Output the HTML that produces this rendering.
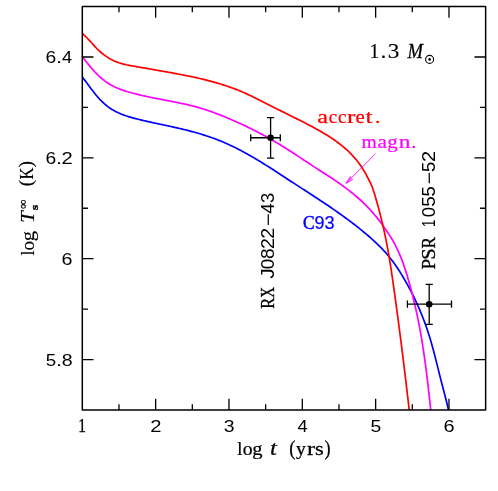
<!DOCTYPE html>
<html><head><meta charset="utf-8"><title>Cooling curves</title>
<style>
html,body{margin:0;padding:0;background:#fff;}
svg{display:block;will-change:transform;}
</style></head>
<body>
<svg width="498" height="491" viewBox="0 0 498 491">
<rect width="498" height="491" fill="#fff"/>
<defs><clipPath id="cp"><rect x="82.3" y="6.55" width="403.34999999999997" height="403.45"/></clipPath></defs>
<g clip-path="url(#cp)" fill="none" stroke-width="1.7" stroke-linejoin="round">
<path d="M80.45,74.82 L81.59,76.17 L82.71,77.55 L83.81,78.95 L84.91,80.37 L86.00,81.81 L87.08,83.27 L88.17,84.73 L89.25,86.20 L90.34,87.68 L91.44,89.15 L92.55,90.61 L93.67,92.06 L94.81,93.50 L95.97,94.92 L97.15,96.32 L98.36,97.69 L99.59,99.04 L100.85,100.35 L102.14,101.63 L103.46,102.87 L104.80,104.08 L106.18,105.24 L107.58,106.35 L109.02,107.43 L110.49,108.45 L111.99,109.42 L113.52,110.33 L115.09,111.20 L116.68,112.01 L118.30,112.79 L119.94,113.51 L121.61,114.20 L123.29,114.85 L125.00,115.47 L126.72,116.05 L128.45,116.61 L130.20,117.13 L131.96,117.64 L133.72,118.12 L135.49,118.59 L137.27,119.04 L139.05,119.48 L140.82,119.91 L142.60,120.33 L144.38,120.74 L146.15,121.15 L147.92,121.55 L149.70,121.95 L151.47,122.34 L153.24,122.73 L155.01,123.11 L156.77,123.49 L158.54,123.87 L160.31,124.25 L162.07,124.63 L163.84,125.01 L165.60,125.38 L167.36,125.76 L169.13,126.14 L170.89,126.53 L172.65,126.92 L174.41,127.31 L176.17,127.70 L177.93,128.10 L179.69,128.51 L181.45,128.92 L183.21,129.34 L184.97,129.77 L186.73,130.20 L188.48,130.65 L190.24,131.10 L192.00,131.57 L193.75,132.04 L195.51,132.53 L197.26,133.03 L199.01,133.54 L200.76,134.06 L202.50,134.59 L204.24,135.13 L205.98,135.69 L207.71,136.26 L209.44,136.84 L211.16,137.44 L212.88,138.05 L214.58,138.67 L216.29,139.31 L217.98,139.96 L219.67,140.63 L221.35,141.31 L223.02,142.01 L224.69,142.72 L226.35,143.45 L228.00,144.19 L229.64,144.94 L231.28,145.71 L232.91,146.49 L234.53,147.28 L236.15,148.08 L237.76,148.90 L239.37,149.73 L240.97,150.56 L242.56,151.41 L244.15,152.27 L245.74,153.14 L247.32,154.01 L248.89,154.90 L250.46,155.80 L252.03,156.70 L253.59,157.61 L255.15,158.53 L256.70,159.46 L258.25,160.39 L259.80,161.33 L261.34,162.27 L262.89,163.22 L264.42,164.18 L265.96,165.14 L267.49,166.11 L269.02,167.08 L270.55,168.06 L272.08,169.03 L273.61,170.02 L275.13,171.00 L276.65,171.99 L278.18,172.98 L279.70,173.97 L281.22,174.96 L282.74,175.96 L284.26,176.95 L285.78,177.94 L287.30,178.94 L288.82,179.93 L290.34,180.93 L291.86,181.92 L293.38,182.91 L294.90,183.90 L296.43,184.89 L297.95,185.88 L299.47,186.87 L301.00,187.85 L302.52,188.84 L304.05,189.83 L305.57,190.81 L307.09,191.80 L308.61,192.79 L310.14,193.78 L311.66,194.77 L313.18,195.76 L314.69,196.75 L316.21,197.75 L317.73,198.74 L319.24,199.74 L320.75,200.74 L322.26,201.74 L323.77,202.75 L325.28,203.76 L326.78,204.77 L328.29,205.78 L329.78,206.80 L331.28,207.82 L332.77,208.84 L334.26,209.87 L335.75,210.90 L337.24,211.94 L338.72,212.98 L340.19,214.03 L341.67,215.08 L343.14,216.14 L344.60,217.20 L346.06,218.27 L347.52,219.34 L348.97,220.42 L350.42,221.51 L351.86,222.60 L353.30,223.70 L354.74,224.80 L356.16,225.91 L357.59,227.03 L359.01,228.16 L360.42,229.29 L361.82,230.44 L363.22,231.59 L364.62,232.74 L366.01,233.91 L367.39,235.09 L368.77,236.27 L370.13,237.46 L371.49,238.67 L372.85,239.88 L374.19,241.10 L375.52,242.34 L376.84,243.59 L378.14,244.85 L379.43,246.12 L380.71,247.40 L381.98,248.70 L383.22,250.02 L384.45,251.35 L385.67,252.69 L386.86,254.05 L388.03,255.43 L389.19,256.83 L390.32,258.24 L391.44,259.66 L392.53,261.11 L393.61,262.56 L394.66,264.04 L395.70,265.52 L396.73,267.02 L397.74,268.53 L398.73,270.04 L399.71,271.57 L400.68,273.11 L401.63,274.66 L402.57,276.21 L403.50,277.77 L404.41,279.34 L405.32,280.91 L406.22,282.49 L407.10,284.08 L407.98,285.67 L408.84,287.26 L409.70,288.86 L410.54,290.47 L411.37,292.08 L412.19,293.69 L413.00,295.32 L413.80,296.94 L414.59,298.57 L415.37,300.21 L416.14,301.85 L416.90,303.50 L417.64,305.15 L418.38,306.80 L419.10,308.46 L419.81,310.13 L420.51,311.80 L421.20,313.47 L421.88,315.15 L422.55,316.83 L423.21,318.52 L423.86,320.21 L424.49,321.91 L425.11,323.61 L425.73,325.31 L426.33,327.02 L426.92,328.73 L427.50,330.45 L428.06,332.17 L428.62,333.89 L429.16,335.62 L429.70,337.35 L430.22,339.09 L430.74,340.82 L431.24,342.57 L431.74,344.31 L432.23,346.05 L432.71,347.80 L433.19,349.55 L433.66,351.31 L434.12,353.06 L434.58,354.82 L435.03,356.58 L435.48,358.33 L435.93,360.09 L436.38,361.85 L436.82,363.61 L437.26,365.38 L437.70,367.14 L438.14,368.90 L438.58,370.66 L439.02,372.42 L439.46,374.18 L439.90,375.94 L440.34,377.70 L440.79,379.46 L441.24,381.21 L441.70,382.97 L442.15,384.72 L442.61,386.48 L443.07,388.23 L443.53,389.98 L443.99,391.73 L444.44,393.48 L444.90,395.24 L445.35,396.99 L445.79,398.74 L446.23,400.50 L446.66,402.26 L447.08,404.02 L447.50,405.78 L447.90,407.55 L448.29,409.32 L448.68,411.09 L449.05,412.86 L449.40,414.64 L449.75,416.43 L450.07,418.21 L450.38,420.01" stroke="#0000ff"/>
<path d="M80.40,54.53 L81.58,55.94 L82.76,57.37 L83.93,58.81 L85.09,60.27 L86.26,61.73 L87.43,63.19 L88.61,64.65 L89.80,66.10 L91.00,67.54 L92.22,68.97 L93.46,70.38 L94.72,71.77 L96.01,73.13 L97.33,74.46 L98.67,75.76 L100.05,77.02 L101.46,78.25 L102.90,79.43 L104.37,80.58 L105.87,81.68 L107.40,82.74 L108.96,83.75 L110.55,84.71 L112.17,85.61 L113.82,86.47 L115.49,87.27 L117.19,88.03 L118.92,88.74 L120.66,89.41 L122.42,90.04 L124.20,90.64 L125.98,91.21 L127.78,91.75 L129.58,92.27 L131.39,92.77 L133.20,93.25 L135.01,93.72 L136.83,94.18 L138.64,94.63 L140.45,95.07 L142.27,95.49 L144.09,95.91 L145.91,96.31 L147.73,96.71 L149.55,97.10 L151.37,97.48 L153.20,97.85 L155.03,98.22 L156.86,98.58 L158.70,98.93 L160.53,99.29 L162.37,99.64 L164.20,99.98 L166.04,100.33 L167.88,100.68 L169.71,101.03 L171.55,101.38 L173.39,101.74 L175.22,102.10 L177.06,102.47 L178.89,102.84 L180.72,103.22 L182.55,103.61 L184.37,104.01 L186.19,104.42 L188.01,104.84 L189.83,105.27 L191.64,105.72 L193.45,106.18 L195.25,106.66 L197.05,107.16 L198.84,107.67 L200.63,108.20 L202.41,108.74 L204.19,109.30 L205.97,109.87 L207.74,110.46 L209.51,111.06 L211.27,111.67 L213.03,112.30 L214.78,112.94 L216.53,113.59 L218.28,114.25 L220.02,114.93 L221.76,115.61 L223.50,116.31 L225.23,117.01 L226.95,117.72 L228.68,118.45 L230.40,119.18 L232.11,119.92 L233.83,120.66 L235.54,121.42 L237.24,122.18 L238.94,122.95 L240.64,123.73 L242.34,124.52 L244.03,125.31 L245.71,126.12 L247.40,126.93 L249.07,127.74 L250.75,128.57 L252.42,129.40 L254.09,130.25 L255.75,131.10 L257.41,131.95 L259.06,132.82 L260.71,133.69 L262.36,134.58 L264.00,135.47 L265.64,136.36 L267.27,137.27 L268.90,138.18 L270.52,139.11 L272.14,140.04 L273.75,140.97 L275.36,141.92 L276.97,142.88 L278.57,143.84 L280.16,144.81 L281.75,145.79 L283.34,146.77 L284.92,147.76 L286.50,148.76 L288.08,149.76 L289.65,150.76 L291.22,151.78 L292.79,152.79 L294.36,153.81 L295.92,154.83 L297.49,155.85 L299.05,156.88 L300.61,157.91 L302.17,158.93 L303.73,159.96 L305.29,160.99 L306.85,162.02 L308.41,163.05 L309.97,164.08 L311.53,165.10 L313.09,166.12 L314.66,167.14 L316.22,168.16 L317.79,169.18 L319.36,170.19 L320.92,171.20 L322.49,172.21 L324.06,173.22 L325.63,174.24 L327.19,175.25 L328.76,176.26 L330.32,177.28 L331.88,178.30 L333.43,179.33 L334.98,180.37 L336.52,181.42 L338.05,182.48 L339.58,183.55 L341.10,184.63 L342.61,185.72 L344.12,186.82 L345.62,187.93 L347.11,189.06 L348.59,190.19 L350.07,191.34 L351.53,192.50 L352.99,193.67 L354.43,194.86 L355.87,196.06 L357.29,197.27 L358.69,198.50 L360.09,199.74 L361.47,201.00 L362.83,202.27 L364.18,203.57 L365.51,204.87 L366.82,206.20 L368.11,207.55 L369.39,208.91 L370.64,210.29 L371.88,211.68 L373.11,213.09 L374.32,214.51 L375.51,215.95 L376.69,217.40 L377.85,218.87 L379.00,220.34 L380.13,221.83 L381.25,223.32 L382.36,224.83 L383.46,226.34 L384.54,227.87 L385.62,229.40 L386.68,230.94 L387.73,232.48 L388.76,234.04 L389.78,235.61 L390.77,237.18 L391.75,238.77 L392.69,240.38 L393.62,242.00 L394.51,243.63 L395.38,245.28 L396.22,246.95 L397.03,248.62 L397.82,250.31 L398.58,252.01 L399.33,253.72 L400.05,255.44 L400.76,257.17 L401.44,258.90 L402.11,260.65 L402.76,262.40 L403.40,264.15 L404.01,265.92 L404.62,267.69 L405.21,269.46 L405.78,271.24 L406.35,273.02 L406.90,274.81 L407.44,276.60 L407.97,278.40 L408.49,280.19 L409.00,281.99 L409.51,283.80 L410.00,285.60 L410.49,287.40 L410.98,289.21 L411.45,291.01 L411.92,292.82 L412.39,294.63 L412.84,296.44 L413.29,298.25 L413.74,300.07 L414.17,301.88 L414.60,303.70 L415.02,305.51 L415.44,307.33 L415.85,309.15 L416.25,310.97 L416.64,312.80 L417.03,314.62 L417.41,316.45 L417.79,318.28 L418.16,320.11 L418.52,321.94 L418.88,323.77 L419.23,325.60 L419.58,327.44 L419.91,329.27 L420.25,331.11 L420.58,332.95 L420.90,334.79 L421.22,336.63 L421.53,338.47 L421.84,340.31 L422.14,342.15 L422.44,344.00 L422.73,345.84 L423.02,347.69 L423.30,349.53 L423.58,351.38 L423.86,353.23 L424.13,355.08 L424.39,356.93 L424.66,358.78 L424.92,360.63 L425.17,362.48 L425.42,364.33 L425.67,366.18 L425.91,368.04 L426.15,369.89 L426.39,371.74 L426.63,373.60 L426.86,375.45 L427.09,377.31 L427.31,379.16 L427.54,381.02 L427.76,382.88 L427.97,384.73 L428.19,386.59 L428.40,388.44 L428.62,390.30 L428.82,392.16 L429.03,394.01 L429.24,395.87 L429.44,397.73 L429.64,399.58 L429.84,401.44 L430.04,403.30 L430.24,405.15 L430.44,407.01 L430.63,408.86 L430.83,410.72 L431.02,412.57 L431.22,414.43 L431.41,416.28 L431.60,418.14 L431.79,419.99" stroke="#ff00ff"/>
<path d="M80.36,31.59 L81.78,32.91 L83.20,34.23 L84.61,35.55 L86.01,36.90 L87.37,38.27 L88.71,39.67 L90.02,41.10 L91.31,42.54 L92.60,43.98 L93.89,45.43 L95.21,46.85 L96.54,48.25 L97.92,49.62 L99.34,50.95 L100.79,52.24 L102.28,53.48 L103.81,54.67 L105.37,55.81 L106.97,56.90 L108.61,57.93 L110.27,58.90 L111.97,59.82 L113.70,60.66 L115.46,61.44 L117.25,62.15 L119.06,62.79 L120.90,63.37 L122.76,63.89 L124.64,64.36 L126.53,64.79 L128.44,65.18 L130.35,65.55 L132.27,65.90 L134.19,66.23 L136.11,66.56 L138.03,66.89 L139.95,67.22 L141.86,67.55 L143.77,67.88 L145.68,68.21 L147.59,68.55 L149.49,68.88 L151.39,69.22 L153.30,69.55 L155.20,69.89 L157.10,70.23 L159.00,70.57 L160.90,70.91 L162.80,71.24 L164.70,71.58 L166.60,71.93 L168.50,72.27 L170.40,72.61 L172.31,72.96 L174.21,73.30 L176.11,73.65 L178.02,74.01 L179.92,74.37 L181.82,74.73 L183.72,75.10 L185.62,75.47 L187.52,75.85 L189.42,76.24 L191.32,76.63 L193.21,77.03 L195.10,77.44 L197.00,77.86 L198.89,78.28 L200.77,78.72 L202.66,79.16 L204.54,79.62 L206.42,80.09 L208.30,80.56 L210.18,81.06 L212.05,81.56 L213.92,82.07 L215.78,82.60 L217.64,83.14 L219.50,83.70 L221.35,84.27 L223.20,84.85 L225.04,85.45 L226.88,86.06 L228.71,86.69 L230.53,87.33 L232.35,87.99 L234.17,88.66 L235.97,89.36 L237.77,90.06 L239.56,90.79 L241.35,91.53 L243.13,92.29 L244.90,93.07 L246.66,93.87 L248.41,94.68 L250.16,95.51 L251.91,96.35 L253.65,97.20 L255.38,98.06 L257.11,98.92 L258.84,99.80 L260.57,100.67 L262.30,101.55 L264.02,102.43 L265.75,103.32 L267.48,104.20 L269.21,105.07 L270.94,105.94 L272.67,106.81 L274.40,107.68 L276.14,108.55 L277.87,109.41 L279.61,110.27 L281.34,111.13 L283.08,111.99 L284.81,112.85 L286.55,113.71 L288.28,114.57 L290.02,115.43 L291.75,116.29 L293.49,117.15 L295.22,118.01 L296.95,118.87 L298.68,119.74 L300.40,120.61 L302.13,121.48 L303.85,122.36 L305.57,123.24 L307.29,124.13 L309.00,125.03 L310.71,125.93 L312.41,126.84 L314.11,127.76 L315.81,128.70 L317.50,129.64 L319.19,130.59 L320.87,131.55 L322.55,132.53 L324.22,133.52 L325.88,134.53 L327.53,135.55 L329.17,136.58 L330.80,137.64 L332.42,138.71 L334.03,139.80 L335.61,140.91 L337.19,142.04 L338.74,143.20 L340.28,144.38 L341.79,145.58 L343.29,146.80 L344.76,148.06 L346.21,149.33 L347.63,150.64 L349.03,151.97 L350.40,153.33 L351.75,154.72 L353.06,156.13 L354.35,157.57 L355.61,159.04 L356.84,160.53 L358.03,162.05 L359.19,163.60 L360.32,165.17 L361.42,166.76 L362.48,168.39 L363.50,170.03 L364.50,171.70 L365.46,173.39 L366.39,175.10 L367.31,176.82 L368.21,178.54 L369.09,180.27 L369.96,182.00 L370.80,183.74 L371.58,185.50 L372.30,187.28 L372.96,189.09 L373.57,190.92 L374.16,192.76 L374.72,194.61 L375.27,196.47 L375.82,198.32 L376.36,200.18 L376.89,202.05 L377.41,203.91 L377.92,205.78 L378.43,207.65 L378.93,209.52 L379.42,211.40 L379.91,213.27 L380.39,215.15 L380.86,217.03 L381.32,218.92 L381.78,220.80 L382.22,222.68 L382.67,224.57 L383.10,226.46 L383.53,228.35 L383.95,230.24 L384.36,232.13 L384.77,234.02 L385.16,235.91 L385.56,237.81 L385.94,239.70 L386.32,241.60 L386.69,243.50 L387.06,245.40 L387.42,247.30 L387.77,249.20 L388.11,251.10 L388.45,253.01 L388.79,254.91 L389.11,256.82 L389.43,258.73 L389.75,260.64 L390.06,262.55 L390.36,264.46 L390.66,266.37 L390.95,268.29 L391.24,270.20 L391.53,272.12 L391.81,274.03 L392.09,275.95 L392.37,277.87 L392.65,279.78 L392.92,281.70 L393.19,283.62 L393.46,285.54 L393.73,287.45 L394.00,289.37 L394.27,291.29 L394.54,293.21 L394.80,295.13 L395.07,297.05 L395.33,298.96 L395.60,300.88 L395.86,302.80 L396.12,304.72 L396.38,306.64 L396.64,308.56 L396.90,310.48 L397.16,312.39 L397.41,314.31 L397.67,316.23 L397.92,318.15 L398.18,320.07 L398.43,321.99 L398.68,323.91 L398.94,325.83 L399.19,327.75 L399.44,329.67 L399.69,331.59 L399.93,333.51 L400.18,335.43 L400.43,337.35 L400.67,339.27 L400.92,341.19 L401.16,343.11 L401.41,345.03 L401.65,346.95 L401.89,348.87 L402.13,350.79 L402.37,352.71 L402.61,354.63 L402.85,356.55 L403.09,358.47 L403.33,360.39 L403.57,362.32 L403.80,364.24 L404.04,366.16 L404.27,368.08 L404.51,370.00 L404.74,371.92 L404.97,373.84 L405.20,375.77 L405.44,377.69 L405.67,379.61 L405.90,381.53 L406.13,383.46 L406.36,385.38 L406.58,387.30 L406.81,389.22 L407.04,391.15 L407.26,393.07 L407.49,394.99 L407.72,396.92 L407.94,398.84 L408.16,400.76 L408.39,402.69 L408.61,404.61 L408.83,406.53 L409.06,408.46 L409.28,410.38 L409.50,412.31 L409.72,414.23 L409.94,416.16 L410.16,418.08 L410.38,420.01" stroke="#ff0000"/>
</g>
<rect x="82.3" y="6.55" width="403.34999999999997" height="403.45" fill="none" stroke="#000" stroke-width="1.5" stroke-linejoin="round"/>
<path d="M118.97,410.0 v-5.7 M118.97,6.55 v5.7 M155.64,410.0 v-11.2 M155.64,6.55 v11.2 M192.30,410.0 v-5.7 M192.30,6.55 v5.7 M228.97,410.0 v-11.2 M228.97,6.55 v11.2 M265.64,410.0 v-5.7 M265.64,6.55 v5.7 M302.31,410.0 v-11.2 M302.31,6.55 v11.2 M338.98,410.0 v-5.7 M338.98,6.55 v5.7 M375.65,410.0 v-11.2 M375.65,6.55 v11.2 M412.31,410.0 v-5.7 M412.31,6.55 v5.7 M448.98,410.0 v-11.2 M448.98,6.55 v11.2 M82.3,359.57 h11.2 M485.65,359.57 h-11.2 M82.3,309.14 h5.7 M485.65,309.14 h-5.7 M82.3,258.71 h11.2 M485.65,258.71 h-11.2 M82.3,208.27 h5.7 M485.65,208.27 h-5.7 M82.3,157.84 h11.2 M485.65,157.84 h-11.2 M82.3,107.41 h5.7 M485.65,107.41 h-5.7 M82.3,56.98 h11.2 M485.65,56.98 h-11.2" stroke="#000" stroke-width="1.3" fill="none"/>
<g><text transform="translate(78.25,431.70) scale(0.807,1)" font-family="Liberation Serif" font-size="19.0" fill="#000" stroke="#000" stroke-width="0.3">1</text><text transform="translate(150.22,431.60) scale(1.161,1)" font-family="Liberation Sans" font-size="17.4" fill="#000">2</text><text transform="translate(223.83,431.60) scale(1.115,1)" font-family="Liberation Sans" font-size="17.4" fill="#000">3</text><text transform="translate(297.49,431.60) scale(1.049,1)" font-family="Liberation Sans" font-size="17.4" fill="#000">4</text><text transform="translate(370.47,431.60) scale(1.115,1)" font-family="Liberation Sans" font-size="17.4" fill="#000">5</text><text transform="translate(443.57,431.60) scale(1.146,1)" font-family="Liberation Sans" font-size="17.4" fill="#000">6</text></g>
<g><text transform="translate(45.42,62.98) scale(1.109,1)" font-family="Liberation Sans" font-size="17.4" fill="#000">6</text><text transform="translate(55.99,62.98) scale(1.268,1)" font-family="Liberation Sans" font-size="17.4" fill="#000">.</text><text transform="translate(62.08,62.98) scale(1.049,1)" font-family="Liberation Sans" font-size="17.4" fill="#000">4</text><text transform="translate(45.42,163.84) scale(1.109,1)" font-family="Liberation Sans" font-size="17.4" fill="#000">6</text><text transform="translate(55.99,163.84) scale(1.268,1)" font-family="Liberation Sans" font-size="17.4" fill="#000">.</text><text transform="translate(61.48,163.84) scale(1.161,1)" font-family="Liberation Sans" font-size="17.4" fill="#000">2</text><text transform="translate(61.50,264.71) scale(1.133,1)" font-family="Liberation Sans" font-size="17.4" fill="#000">6</text><text transform="translate(45.65,365.57) scale(1.079,1)" font-family="Liberation Sans" font-size="17.4" fill="#000">5</text><text transform="translate(55.99,365.57) scale(1.268,1)" font-family="Liberation Sans" font-size="17.4" fill="#000">.</text><text transform="translate(61.65,365.57) scale(1.127,1)" font-family="Liberation Sans" font-size="17.4" fill="#000">8</text></g>
<path d="M250.75,137.75 H280.3 M270.6,117.6 V158.1 M250.75,134.15 v7.2 M280.3,134.15 v7.2 M267.0,117.6 h7.2 M267.0,158.1 h7.2" stroke="#000" stroke-width="1.3" fill="none"/><circle cx="270.6" cy="137.75" r="3.3" fill="#000"/><path d="M407.4,304.2 H451.5 M429.2,284.3 V324.3 M407.4,300.59999999999997 v7.2 M451.5,300.59999999999997 v7.2 M425.59999999999997,284.3 h7.2 M425.59999999999997,324.3 h7.2" stroke="#000" stroke-width="1.3" fill="none"/><circle cx="429.2" cy="304.2" r="3.3" fill="#000"/>
<path d="M375.6,153.5 L346.1,183.3" stroke="#ff00ff" stroke-width="0.8" fill="none"/>
<path d="M346.1,183.3 L350.1,176.5 L351.5,177.9 L346.1,183.3 L353.0,179.3 Z" stroke="#ff00ff" stroke-width="0.6" fill="#ff00ff" fill-opacity="0.55" stroke-linejoin="round"/>
<g><text transform="translate(317.35,122.60) scale(1.266,1)" font-family="Liberation Serif" font-size="19.0" fill="#ff0000" stroke="#ff0000" stroke-width="0.25">a</text><text transform="translate(328.68,122.60) scale(0.996,1)" font-family="Liberation Serif" font-size="19.0" fill="#ff0000" stroke="#ff0000" stroke-width="0.25">c</text><text transform="translate(337.98,122.60) scale(0.996,1)" font-family="Liberation Serif" font-size="19.0" fill="#ff0000" stroke="#ff0000" stroke-width="0.25">c</text><text transform="translate(347.09,122.60) scale(1.332,1)" font-family="Liberation Serif" font-size="19.0" fill="#ff0000" stroke="#ff0000" stroke-width="0.25">r</text><text transform="translate(355.59,122.60) scale(1.095,1)" font-family="Liberation Serif" font-size="19.0" fill="#ff0000" stroke="#ff0000" stroke-width="0.25">e</text><text transform="translate(365.45,122.60) scale(1.325,1)" font-family="Liberation Serif" font-size="19.0" fill="#ff0000" stroke="#ff0000" stroke-width="0.25">t</text><text transform="translate(375.01,122.60) scale(1.114,1)" font-family="Liberation Serif" font-size="19.0" fill="#ff0000" stroke="#ff0000" stroke-width="0.25">.</text></g>
<g><text transform="translate(361.49,148.20) scale(1.037,1)" font-family="Liberation Serif" font-size="19.0" fill="#ff00ff" stroke="#ff00ff" stroke-width="0.2">m</text><text transform="translate(377.45,148.20) scale(1.119,1)" font-family="Liberation Serif" font-size="19.0" fill="#ff00ff" stroke="#ff00ff" stroke-width="0.2">a</text><text transform="translate(387.30,148.20) scale(1.106,1)" font-family="Liberation Serif" font-size="19.0" fill="#ff00ff" stroke="#ff00ff" stroke-width="0.2">g</text><text transform="translate(398.66,148.20) scale(1.231,1)" font-family="Liberation Serif" font-size="19.0" fill="#ff00ff" stroke="#ff00ff" stroke-width="0.2">n</text><text transform="translate(411.36,148.20) scale(1.069,1)" font-family="Liberation Serif" font-size="19.0" fill="#ff00ff" stroke="#ff00ff" stroke-width="0.2">.</text></g>
<g><text transform="translate(302.89,229.00) scale(0.943,1)" font-family="Liberation Serif" font-size="18.4" fill="#0000ff" stroke="#0000ff" stroke-width="0.5">C</text><text transform="translate(314.46,229.00) scale(1.027,1)" font-family="Liberation Sans" font-size="17.5" fill="#0000ff" stroke="#0000ff" stroke-width="0.2">9</text><text transform="translate(324.61,229.00) scale(1.037,1)" font-family="Liberation Sans" font-size="17.5" fill="#0000ff" stroke="#0000ff" stroke-width="0.2">3</text></g>
<g><text transform="translate(369.56,57.80) scale(0.918,1)" font-family="Liberation Serif" font-size="21.5" fill="#000" stroke="#000" stroke-width="0.15">1</text><text transform="translate(380.85,57.80) scale(1.023,1)" font-family="Liberation Serif" font-size="21.5" fill="#000" stroke="#000" stroke-width="0.15">.</text><text transform="translate(387.69,57.80) scale(1.081,1)" font-family="Liberation Serif" font-size="21.5" fill="#000" stroke="#000" stroke-width="0.15">3</text><text transform="translate(407.42,57.80) scale(0.862,1)" font-family="Liberation Serif" font-size="21.5" font-style="italic" fill="#000" stroke="#000" stroke-width="0.3">M</text><circle cx="429.6" cy="59.4" r="4.0" fill="none" stroke="#000" stroke-width="1.1"/><circle cx="429.6" cy="59.4" r="1.3" fill="#000"/></g>
<g><text transform="translate(237.33,455.00) scale(0.949,1)" font-family="Liberation Serif" font-size="19.5" fill="#000" stroke="#000" stroke-width="0.25">l</text><text transform="translate(242.85,455.00) scale(1.043,1)" font-family="Liberation Serif" font-size="19.0" fill="#000" stroke="#000" stroke-width="0.25">o</text><text transform="translate(252.22,455.00) scale(1.081,1)" font-family="Liberation Serif" font-size="19.0" fill="#000" stroke="#000" stroke-width="0.25">g</text><text transform="translate(269.91,455.00) scale(1.154,1)" font-family="Liberation Serif" font-size="21.5" font-style="italic" fill="#000" stroke="#000" stroke-width="0.25">t</text><text transform="translate(289.18,455.00) scale(0.890,1)" font-family="Liberation Serif" font-size="21.0" fill="#000" stroke="#000" stroke-width="0.25">(</text><text transform="translate(296.06,455.00) scale(1.033,1)" font-family="Liberation Serif" font-size="19.0" fill="#000" stroke="#000" stroke-width="0.25">y</text><text transform="translate(307.01,455.00) scale(1.280,1)" font-family="Liberation Serif" font-size="19.0" fill="#000" stroke="#000" stroke-width="0.25">r</text><text transform="translate(315.08,455.00) scale(1.181,1)" font-family="Liberation Serif" font-size="19.0" fill="#000" stroke="#000" stroke-width="0.25">s</text><text transform="translate(324.41,455.00) scale(0.871,1)" font-family="Liberation Serif" font-size="21.0" fill="#000" stroke="#000" stroke-width="0.25">)</text></g>
<g transform="translate(33.6,255.8) rotate(-90)"><text transform="translate(0.34,0.00) scale(1.005,1)" font-family="Liberation Serif" font-size="18.0" fill="#000" stroke="#000" stroke-width="0.15">l</text><text transform="translate(5.27,0.00) scale(1.062,1)" font-family="Liberation Serif" font-size="18.0" fill="#000" stroke="#000" stroke-width="0.15">o</text><text transform="translate(14.62,0.00) scale(1.142,1)" font-family="Liberation Serif" font-size="18.0" fill="#000" stroke="#000" stroke-width="0.15">g</text><text transform="translate(32.81,0.00) scale(1.182,1)" font-family="Liberation Serif" font-size="18.0" font-style="italic" fill="#000" stroke="#000" stroke-width="0.15">T</text><text transform="translate(69.56,-1.30) scale(0.968,1)" font-family="Liberation Serif" font-size="19.7" fill="#000" stroke="#000" stroke-width="0.15">(</text><text transform="translate(76.33,-0.40) scale(0.863,1)" font-family="Liberation Serif" font-size="19.0" fill="#000" stroke="#000" stroke-width="0.15">K</text><text transform="translate(88.36,-1.30) scale(1.008,1)" font-family="Liberation Serif" font-size="19.7" fill="#000" stroke="#000" stroke-width="0.15">)</text><text transform="translate(46.95,-6.40) scale(1.003,1)" font-family="Liberation Serif" font-size="12.6" font-weight="bold" fill="#000" stroke="#000" stroke-width="0.35">∞</text><text transform="translate(45.67,4.60) scale(1.405,1)" font-family="Liberation Serif" font-size="10.0" font-weight="bold" fill="#000" stroke="#000" stroke-width="0.35">s</text></g>
<g transform="translate(273.8,308.3) rotate(-90)"><text transform="translate(-0.47,0.00) scale(0.829,1)" font-family="Liberation Serif" font-size="19.7" fill="#000" stroke="#000" stroke-width="0.35">R</text><text transform="translate(10.49,0.00) scale(0.750,1)" font-family="Liberation Serif" font-size="19.7" fill="#000" stroke="#000" stroke-width="0.35">X</text><text transform="translate(29.47,0.00) scale(1.171,1)" font-family="Liberation Sans" font-size="17.9" fill="#000">J</text><text transform="translate(39.06,0.00) scale(1.052,1)" font-family="Liberation Sans" font-size="17.9" fill="#000">0</text><text transform="translate(49.27,0.00) scale(1.072,1)" font-family="Liberation Sans" font-size="17.9" fill="#000">8</text><text transform="translate(59.42,0.00) scale(1.091,1)" font-family="Liberation Sans" font-size="17.9" fill="#000">2</text><text transform="translate(69.62,0.00) scale(1.091,1)" font-family="Liberation Sans" font-size="17.9" fill="#000">2</text><text transform="translate(82.42,0.00) scale(1.219,1)" font-family="Liberation Sans" font-size="17.9" fill="#000">−</text><text transform="translate(94.66,0.00) scale(1.064,1)" font-family="Liberation Sans" font-size="17.9" fill="#000">4</text><text transform="translate(105.30,0.00) scale(1.025,1)" font-family="Liberation Sans" font-size="17.9" fill="#000">3</text></g>
<g transform="translate(435.2,268.9) rotate(-90)"><text transform="translate(-0.54,0.00) scale(0.978,1)" font-family="Liberation Serif" font-size="19.3" fill="#000" stroke="#000" stroke-width="0.35">P</text><text transform="translate(9.22,0.00) scale(1.067,1)" font-family="Liberation Serif" font-size="19.3" fill="#000" stroke="#000" stroke-width="0.35">S</text><text transform="translate(20.31,0.00) scale(0.887,1)" font-family="Liberation Serif" font-size="19.3" fill="#000" stroke="#000" stroke-width="0.35">R</text><text transform="translate(41.88,0.00) scale(0.750,1)" font-family="Liberation Sans" font-size="17.9" fill="#000">1</text><text transform="translate(51.73,0.00) scale(1.034,1)" font-family="Liberation Sans" font-size="17.9" fill="#000">0</text><text transform="translate(62.05,0.00) scale(1.049,1)" font-family="Liberation Sans" font-size="17.9" fill="#000">5</text><text transform="translate(72.47,0.00) scale(1.025,1)" font-family="Liberation Sans" font-size="17.9" fill="#000">5</text><text transform="translate(84.64,0.00) scale(1.196,1)" font-family="Liberation Sans" font-size="17.9" fill="#000">−</text><text transform="translate(96.87,0.00) scale(1.025,1)" font-family="Liberation Sans" font-size="17.9" fill="#000">5</text><text transform="translate(106.90,0.00) scale(1.116,1)" font-family="Liberation Sans" font-size="17.9" fill="#000">2</text></g>
</svg>
</body></html>
